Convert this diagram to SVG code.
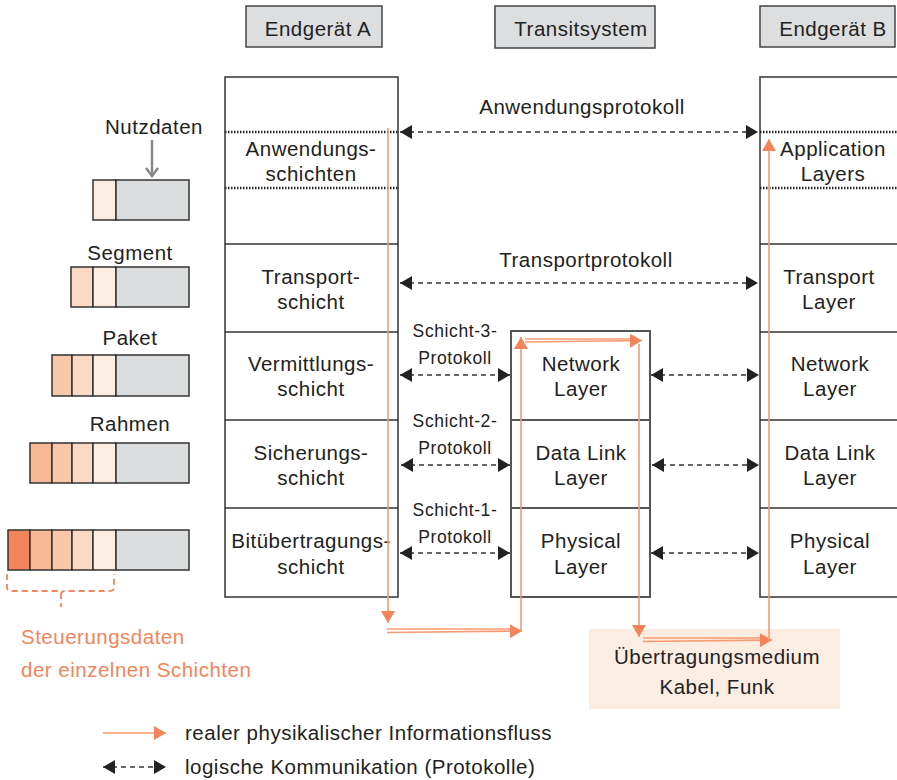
<svg xmlns="http://www.w3.org/2000/svg" width="897" height="780" viewBox="0 0 897 780">
<defs>
<style>
text{font-family:"Liberation Sans",Arial,sans-serif;fill:#222;letter-spacing:0.5px;}
.t{font-size:20.5px;text-anchor:middle;}
.s{font-size:17.5px;text-anchor:middle;letter-spacing:0.6px;}
.lg{font-size:20.5px;}
.hdr{fill:#DDDEE0;stroke:#444;stroke-width:1.5;}
.box{fill:#fff;stroke:#333;stroke-width:1.5;}
.tbox{fill:#fff;stroke:#555;stroke-width:2;}
.dot{stroke:#222;stroke-width:2.5;stroke-dasharray:1.5,1.5;}
.dash{stroke:#333;stroke-width:1.5;stroke-dasharray:5,4;fill:none;marker-start:url(#ab);marker-end:url(#ab);}
.or{stroke:#F79A72;stroke-width:1.6;fill:none;}
.ora{stroke:#F79A72;stroke-width:1.6;fill:none;marker-end:url(#ao);}
.pk{stroke:#333;stroke-width:1.5;}
.c0{fill:#DCDDDF;}.c1{fill:#FCEDE3;}.c2{fill:#FCD9C4;}.c3{fill:#F9C8AA;}.c4{fill:#F8B896;}.c5{fill:#F4845A;}
.ot{font-size:20.5px;fill:#F4845A;}
</style>
<marker id="ab" viewBox="0 0 12 14" refX="12" refY="7" markerWidth="12" markerHeight="14" markerUnits="userSpaceOnUse" orient="auto-start-reverse"><path d="M0,0L12,7L0,14z" fill="#222"/></marker>
<marker id="ao" viewBox="0 0 12 14" refX="12" refY="7" markerWidth="12" markerHeight="14" markerUnits="userSpaceOnUse" orient="auto"><path d="M0,0L12,7L0,14z" fill="#F4845A"/></marker>
<marker id="ag" viewBox="0 0 14 14" refX="7" refY="12" markerWidth="14" markerHeight="14" markerUnits="userSpaceOnUse" orient="0"><path d="M1,4L7,12L13,4" fill="none" stroke="#888" stroke-width="2.5"/></marker>
</defs>
<rect width="897" height="780" fill="#fff"/>

<g id="hdrA"><rect class="hdr" x="246" y="6" width="136" height="41"/><text class="t" x="318" y="36">Endgerät A</text></g>
<g id="hdrT"><rect class="hdr" x="495" y="6" width="160" height="42"/><text class="t" x="581" y="36">Transitsystem</text></g>
<g id="hdrB"><rect class="hdr" x="760" y="6" width="135" height="41"/><text class="t" x="833" y="36">Endgerät B</text></g>

<g id="stackA">
<rect class="box" x="225" y="77" width="173" height="520"/>
<line class="box" x1="225" y1="244" x2="398" y2="244"/>
<line class="box" x1="225" y1="332" x2="398" y2="332"/>
<line class="box" x1="225" y1="420" x2="398" y2="420"/>
<line class="box" x1="225" y1="508" x2="398" y2="508"/>
<line class="dot" x1="225" y1="132" x2="398" y2="132"/>
<line class="dot" x1="225" y1="188" x2="398" y2="188"/>
<text class="t" x="311" y="156">Anwendungs-</text><text class="t" x="311" y="181">schichten</text>
<text class="t" x="311" y="284">Transport-</text><text class="t" x="311" y="309">schicht</text>
<text class="t" x="311" y="371">Vermittlungs-</text><text class="t" x="311" y="396">schicht</text>
<text class="t" x="311" y="460">Sicherungs-</text><text class="t" x="311" y="485">schicht</text>
<text class="t" x="311" y="548">Bitübertragungs-</text><text class="t" x="311" y="574">schicht</text>
</g>

<g id="stackT">
<rect class="tbox" x="511" y="331" width="139" height="266"/>
<line class="tbox" x1="511" y1="420" x2="650" y2="420"/>
<line class="tbox" x1="511" y1="508" x2="650" y2="508"/>
<text class="t" x="581" y="371">Network</text><text class="t" x="581" y="396">Layer</text>
<text class="t" x="581" y="460">Data Link</text><text class="t" x="581" y="485">Layer</text>
<text class="t" x="581" y="548">Physical</text><text class="t" x="581" y="574">Layer</text>
</g>

<g id="stackB">
<rect class="box" x="760" y="77" width="140" height="520"/>
<line class="box" x1="760" y1="244" x2="897" y2="244"/>
<line class="box" x1="760" y1="332" x2="897" y2="332"/>
<line class="box" x1="760" y1="420" x2="897" y2="420"/>
<line class="box" x1="760" y1="508" x2="897" y2="508"/>
<line class="dot" x1="760" y1="132" x2="897" y2="132"/>
<line class="dot" x1="760" y1="188" x2="897" y2="188"/>
<text class="t" x="833" y="156">Application</text><text class="t" x="833" y="181">Layers</text>
<text class="t" x="829" y="284">Transport</text><text class="t" x="829" y="309">Layer</text>
<text class="t" x="830" y="371">Network</text><text class="t" x="830" y="396">Layer</text>
<text class="t" x="830" y="460">Data Link</text><text class="t" x="830" y="485">Layer</text>
<text class="t" x="830" y="548">Physical</text><text class="t" x="830" y="574">Layer</text>
</g>

<g id="medium">
<rect x="589" y="629" width="251" height="80" fill="#FCEDE2"/>
<text class="t" x="717" y="664">Übertragungsmedium</text>
<text class="t" x="717" y="694">Kabel, Funk</text>
</g>

<g id="connectors">
<line class="dash" x1="400" y1="132" x2="758" y2="132"/>
<line class="dash" x1="400" y1="283" x2="758" y2="283"/>
<line class="dash" x1="400" y1="375" x2="510" y2="375"/>
<line class="dash" x1="401" y1="465" x2="510" y2="465"/>
<line class="dash" x1="400" y1="553" x2="510" y2="553"/>
<line class="dash" x1="651" y1="375" x2="759" y2="375"/>
<line class="dash" x1="652" y1="465" x2="759" y2="465"/>
<line class="dash" x1="651" y1="553" x2="759" y2="553"/>
<line class="ora" x1="388" y1="128" x2="388" y2="623"/>
<line class="or" x1="387" y1="629" x2="512" y2="629"/>
<line class="ora" x1="387" y1="632.5" x2="522" y2="631"/>
<line class="ora" x1="521" y1="631" x2="521" y2="337"/>
<line class="or" x1="525" y1="339" x2="632" y2="339"/>
<line class="ora" x1="525" y1="342" x2="642" y2="340.5"/>
<line class="ora" x1="639" y1="344" x2="639" y2="637"/>
<line class="or" x1="643" y1="638" x2="762" y2="638"/>
<line class="ora" x1="643" y1="641.5" x2="772" y2="640"/>
<line class="ora" x1="769" y1="640" x2="769" y2="139"/>
</g>

<g id="labels">
<text class="t" x="582" y="114">Anwendungsprotokoll</text>
<text class="t" x="586" y="267">Transportprotokoll</text>
<text class="s" x="455" y="337">Schicht-3-</text><text class="s" x="455" y="364">Protokoll</text>
<text class="s" x="455" y="427">Schicht-2-</text><text class="s" x="455" y="454">Protokoll</text>
<text class="s" x="455" y="516">Schicht-1-</text><text class="s" x="455" y="543">Protokoll</text>
</g>

<g id="packets">
<text class="t" x="154" y="134">Nutzdaten</text>
<line x1="152" y1="140" x2="152" y2="176" stroke="#888" stroke-width="2.5" marker-end="url(#ag)"/>
<g class="pk"><rect class="c1" x="93" y="180" width="23" height="40"/><rect class="c0" x="116" y="180" width="73" height="40"/></g>
<text class="t" x="130" y="260">Segment</text>
<g class="pk"><rect class="c2" x="71" y="267" width="22" height="40"/><rect class="c1" x="93" y="267" width="23" height="40"/><rect class="c0" x="116" y="267" width="73" height="40"/></g>
<text class="t" x="130" y="345">Paket</text>
<g class="pk"><rect class="c3" x="52" y="355" width="20" height="41"/><rect class="c2" x="72" y="355" width="21" height="41"/><rect class="c1" x="93" y="355" width="23" height="41"/><rect class="c0" x="116" y="355" width="73" height="41"/></g>
<text class="t" x="130" y="431">Rahmen</text>
<g class="pk"><rect class="c4" x="30" y="443" width="22" height="40"/><rect class="c3" x="52" y="443" width="20" height="40"/><rect class="c2" x="72" y="443" width="21" height="40"/><rect class="c1" x="93" y="443" width="23" height="40"/><rect class="c0" x="116" y="443" width="73" height="40"/></g>
<g class="pk"><rect class="c5" x="8" y="530" width="22" height="40"/><rect class="c4" x="30" y="530" width="22" height="40"/><rect class="c3" x="52" y="530" width="20" height="40"/><rect class="c2" x="72" y="530" width="21" height="40"/><rect class="c1" x="93" y="530" width="23" height="40"/><rect class="c0" x="116" y="530" width="73" height="40"/></g>
<path d="M7,574 V587 Q7,591 11,591 H57 Q61,591 61,595 V607 M61,595 Q61,591 65,591 H110 Q114,591 114,587 V574" fill="none" stroke="#F4845A" stroke-width="1.8" stroke-dasharray="6,4"/>
<text class="ot" x="21" y="644">Steuerungsdaten</text>
<text class="ot" x="21" y="677">der einzelnen Schichten</text>
</g>

<g id="legend">
<line class="ora" x1="103" y1="733" x2="166" y2="733"/>
<text class="lg" x="185" y="740">realer physikalischer Informationsfluss</text>
<line class="dash" x1="103" y1="767" x2="166" y2="767"/>
<text class="lg" x="185" y="774">logische Kommunikation (Protokolle)</text>
</g>
</svg>
